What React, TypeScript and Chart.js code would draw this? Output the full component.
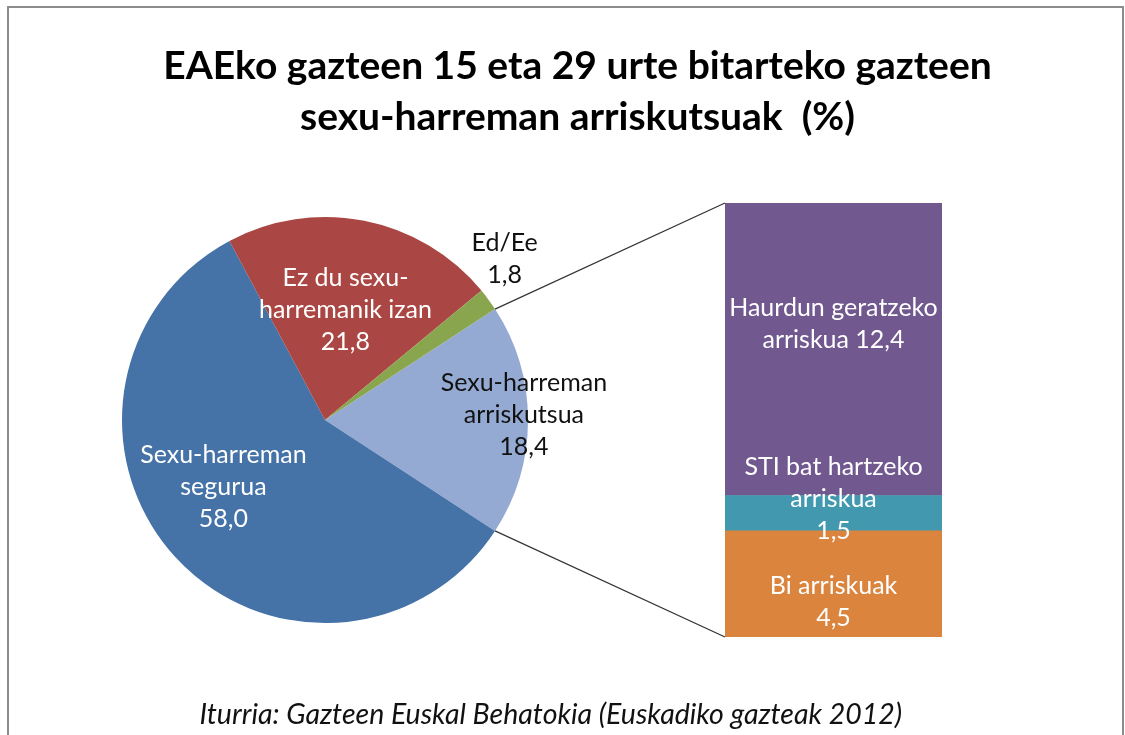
import React, { useEffect, useRef } from 'react';
import { Chart, registerables } from 'chart.js';

Chart.register(...registerables);

// ---------- data ----------
const pieCategories = ['Sexu-harreman arriskutsua', 'Sexu-harreman segurua', 'Ez du sexu-harremanik izan', 'Ed/Ee'];
const pieValues = [18.4, 58.0, 21.8, 1.8];
const pieLabelLines = [['Sexu-harreman', 'arriskutsua'], ['Sexu-harreman', 'segurua'], ['Ez du sexu-', 'harremanik izan'], ['Ed/Ee']];
const splitIndex = 0; // slice broken out into the bar

const barCategories = ['Bi arriskuak', 'STI bat hartzeko arriskua', 'Haurdun geratzeko arriskua'];
const barValues = [4.5, 1.5, 12.4];
const barLabelLines = [['Bi arriskuak'], ['STI bat hartzeko', 'arriskua'], ['Haurdun geratzeko', 'arriskua']];

const titleLines = ['EAEko gazteen 15 eta 29 urte bitarteko gazteen', 'sexu-harreman arriskutsuak  (%)'];
const sourceText = 'Iturria: Gazteen Euskal Behatokia (Euskadiko gazteak 2012)';

// ---------- styles / layout ----------
const W = 1125;
const H = 735;
const FONT = 'Lato, Carlito, Calibri, "Open Sans", sans-serif';
const pieColors = ['#94AAD2', '#4572A7', '#AA4643', '#89A54E'];
const barColors = ['#DB843D', '#4198AF', '#71588F'];
const pieBox = { left: 122, top: 217, size: 406 };
const barBox = { left: 725, top: 203, right: 942, bottom: 637 };
const titleShiftPad = 30; // shifts the title centre to the right
const sourcePadSpaces = 8; // keeps the source line centred left of the title
const labelFontSize = 25;
const labelLineHeight = 32;
const pieLabelStyle = [
  { r: 0.98, dAng: -1.4, color: '#111111', inline: false },
  { r: 0.6, dAng: 9, color: '#ffffff', inline: false },
  { r: 0.55, dAng: -0.6, color: '#ffffff', inline: false },
  { r: 1.19, dAng: -5.6, color: '#111111', inline: false },
];
const barLabelStyle = [
  { dy: 18, color: '#ffffff', inline: false },
  { dy: -14, color: '#ffffff', inline: false },
  { dy: -25, color: '#ffffff', inline: true },
];

const fmt = (v: number) => v.toFixed(1).replace('.', ',');

function drawLines(ctx: CanvasRenderingContext2D, lines: string[], x: number, y: number, color: string) {
  ctx.save();
  ctx.font = `${labelFontSize}px ${FONT}`;
  ctx.fillStyle = color;
  ctx.textAlign = 'center';
  ctx.textBaseline = 'middle';
  const y0 = y - ((lines.length - 1) * labelLineHeight) / 2;
  lines.forEach((t, i) => ctx.fillText(t, x, y0 + i * labelLineHeight));
  ctx.restore();
}

function buildLines(base: string[], value: number, inline: boolean) {
  const lines = [...base];
  if (inline) lines[lines.length - 1] = lines[lines.length - 1] + ' ' + fmt(value);
  else lines.push(fmt(value));
  return lines;
}

export default function App() {
  const pieRef = useRef<HTMLCanvasElement>(null);
  const barRef = useRef<HTMLCanvasElement>(null);

  useEffect(() => {
    const total = pieValues.reduce((a, b) => a + b, 0);
    const before = pieValues.slice(0, splitIndex).reduce((a, b) => a + b, 0);
    const splitDeg = (pieValues[splitIndex] / total) * 360;
    const rotation = 90 - splitDeg / 2 - (before / total) * 360;

    const pieAreaPlugin = {
      id: 'pieArea',
      afterLayout(chart: any) {
        chart.chartArea = {
          left: pieBox.left,
          top: pieBox.top,
          right: pieBox.left + pieBox.size,
          bottom: pieBox.top + pieBox.size,
          width: pieBox.size,
          height: pieBox.size,
        };
      },
    };

    const pieLabelPlugin = {
      id: 'pieLabels',
      afterDatasetsDraw(chart: any) {
        const ctx = chart.ctx;
        const meta = chart.getDatasetMeta(0);
        meta.data.forEach((el: any, i: number) => {
          const p = el.getProps(['x', 'y', 'startAngle', 'endAngle', 'outerRadius'], true);
          const st = pieLabelStyle[i];
          const a = (p.startAngle + p.endAngle) / 2 + (st.dAng * Math.PI) / 180;
          const x = p.x + Math.cos(a) * p.outerRadius * st.r;
          const y = p.y + Math.sin(a) * p.outerRadius * st.r;
          drawLines(ctx, buildLines(pieLabelLines[i], pieValues[i], st.inline), x, y, st.color);
        });
      },
    };

    const pie = new Chart(pieRef.current!, {
      type: 'pie',
      data: {
        labels: pieCategories,
        datasets: [
          {
            data: pieValues,
            backgroundColor: pieColors,
            borderWidth: 0,
            hoverOffset: 0,
          },
        ],
      },
      options: {
        responsive: false,
        animation: false,
        rotation,
        events: [],
        layout: { padding: { left: titleShiftPad, right: 0, top: 0, bottom: 0 } },
        plugins: {
          legend: { display: false },
          tooltip: { enabled: false },
          title: {
            display: true,
            text: titleLines,
            color: '#000000',
            font: { family: FONT, size: 39, weight: 'bold', lineHeight: 1.3 },
            padding: { top: 41, bottom: 10 },
          },
          subtitle: {
            display: true,
            position: 'bottom',
            text: sourceText + ' '.repeat(sourcePadSpaces),
            color: '#111111',
            font: { family: FONT, size: 28.5, style: 'italic', lineHeight: 1.2 },
            padding: { top: 10, bottom: 3 },
          },
        },
      } as any,
      plugins: [pieAreaPlugin, pieLabelPlugin],
    });

    const connectorPlugin = {
      id: 'connectors',
      afterDatasetsDraw(chart: any) {
        const ctx = chart.ctx;
        const arc: any = pie.getDatasetMeta(0).data[splitIndex];
        const p = arc.getProps(['x', 'y', 'startAngle', 'endAngle', 'outerRadius'], true);
        const first: any = chart.getDatasetMeta(0).data[0];
        const last: any = chart.getDatasetMeta(barValues.length - 1).data[0];
        const left = first.x - first.width / 2;
        const top = last.y;
        const bottom = first.base;
        ctx.save();
        ctx.strokeStyle = '#333333';
        ctx.lineWidth = 1.2;
        ctx.beginPath();
        ctx.moveTo(p.x + Math.cos(p.startAngle) * p.outerRadius, p.y + Math.sin(p.startAngle) * p.outerRadius);
        ctx.lineTo(left, top);
        ctx.moveTo(p.x + Math.cos(p.endAngle) * p.outerRadius, p.y + Math.sin(p.endAngle) * p.outerRadius);
        ctx.lineTo(left, bottom);
        ctx.stroke();
        ctx.restore();
      },
    };

    const barLabelPlugin = {
      id: 'barLabels',
      afterDatasetsDraw(chart: any) {
        const ctx = chart.ctx;
        barValues.forEach((v, i) => {
          const el: any = chart.getDatasetMeta(i).data[0];
          const st = barLabelStyle[i];
          drawLines(ctx, buildLines(barLabelLines[i], v, st.inline), el.x, (el.y + el.base) / 2 + st.dy, st.color);
        });
      },
    };

    const barTotal = barValues.reduce((a, b) => a + b, 0);
    const bar = new Chart(barRef.current!, {
      type: 'bar',
      data: {
        labels: [pieCategories[splitIndex]],
        datasets: barValues.map((v, i) => ({
          label: barCategories[i],
          data: [v],
          backgroundColor: barColors[i],
          borderWidth: 0,
          barPercentage: 1,
          categoryPercentage: 1,
        })),
      },
      options: {
        responsive: false,
        animation: false,
        events: [],
        layout: {
          padding: { left: barBox.left, top: barBox.top, right: W - barBox.right, bottom: H - barBox.bottom },
        },
        scales: {
          x: { display: false, stacked: true },
          y: { display: false, stacked: true, min: 0, max: barTotal },
        },
        plugins: { legend: { display: false }, tooltip: { enabled: false } },
      } as any,
      plugins: [connectorPlugin, barLabelPlugin],
    });

    return () => {
      bar.destroy();
      pie.destroy();
    };
  }, []);

  return (
    <div style={{ position: 'absolute', left: 0, top: 0, width: W, height: H, overflow: 'hidden', background: '#ffffff' }}>
      <div
        style={{
          position: 'absolute',
          left: 7,
          top: 6,
          width: 1117,
          height: 800,
          border: '2px solid #8c8c8c',
          boxSizing: 'border-box',
        }}
      />
      <canvas ref={pieRef} width={W} height={H} style={{ position: 'absolute', left: 0, top: 0 }} />
      <canvas ref={barRef} width={W} height={H} style={{ position: 'absolute', left: 0, top: 0 }} />
    </div>
  );
}
